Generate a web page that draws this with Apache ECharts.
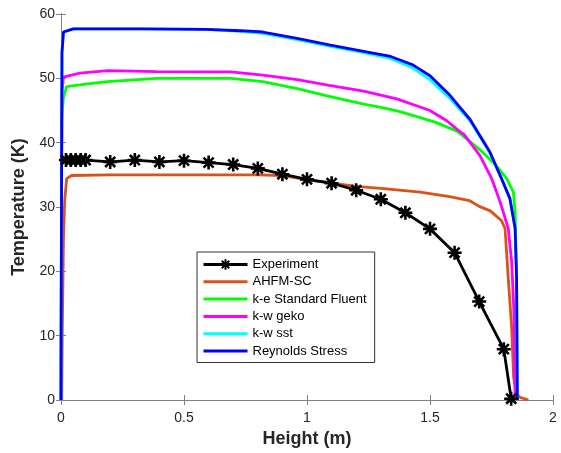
<!DOCTYPE html>
<html>
<head>
<meta charset="utf-8">
<script src="https://cdn.jsdelivr.net/npm/echarts@6/dist/echarts.min.js"></script>
<style>
  html, body { margin: 0; padding: 0; background: #fff; }
  #main { width: 561px; height: 453px; }
</style>
</head>
<body>
<div id="main"></div>
<script>
// data: [height (m), temperature (K)]
var experiment = [[0.02,37.3],[0.04,37.3],[0.06,37.3],[0.08,37.3],[0.1,37.3],[0.2,37.0],[0.3,37.3],
    [0.4,37.0],[0.5,37.2],[0.6,36.9],[0.7,36.6],[0.8,36.0],[0.9,35.1],[1.0,34.3],[1.1,33.7],
    [1.2,32.6],[1.3,31.2],[1.4,29.1],[1.5,26.6],[1.6,22.9],[1.7,15.3],[1.8,7.9],[1.83,0.2]];
var ahfm = [[0.003,0],[0.005,10],[0.01,25],[0.015,31],[0.023,34.4],[0.043,34.9],[0.2,35.0],
    [0.5,35.0],[0.8,35.0],[0.9,34.9],[1.0,34.2],[1.1,33.7],[1.2,33.2],[1.3,32.9],[1.46,32.3],
    [1.58,31.6],[1.66,31.0],[1.7,30.1],[1.745,29.4],[1.79,27.9],[1.805,26.7],[1.818,19],
    [1.832,11.2],[1.84,3.5],[1.852,1.0],[1.866,0.4],[1.9,0]];
var keStandard = [[0,0],[0.002,30],[0.003,44],[0.01,47],[0.023,48.7],[0.1,49.1],[0.19,49.5],
    [0.39,50.0],[0.51,50.0],[0.69,50.0],[0.82,49.5],[0.96,48.4],[1.09,47.2],[1.23,46.0],
    [1.3,45.5],[1.37,44.9],[1.46,43.9],[1.52,43.2],[1.61,41.8],[1.7,39.0],[1.77,36.4],
    [1.812,34.4],[1.839,32.3],[1.846,29.2],[1.852,19],[1.853,0]];
var kwGeko = [[0,0],[0.002,30],[0.004,48],[0.01,50.2],[0.077,50.8],[0.19,51.2],[0.39,51.05],
    [0.69,51.0],[0.82,50.5],[0.96,49.8],[1.09,48.9],[1.23,48.0],[1.365,46.8],[1.5,45.0],
    [1.568,43.4],[1.615,41.9],[1.64,41.2],[1.703,38.0],[1.751,34.4],[1.785,30.8],[1.818,26.7],
    [1.832,21.5],[1.841,13.9],[1.846,0]];
var kwSst = [[0,0],[0.002,30],[0.004,54],[0.01,57.2],[0.05,57.7],[0.32,57.7],[0.59,57.6],
    [0.73,57.3],[0.82,57.0],[0.96,56.0],[1.09,55.0],[1.23,54.0],[1.34,53.1],[1.43,51.6],
    [1.5,49.8],[1.58,46.9],[1.663,43.4],[1.744,38.4],[1.791,34.4],[1.825,31.3],[1.846,26.7],
    [1.852,19],[1.855,0]];
var reynolds = [[0,0],[0.002,30],[0.004,54],[0.01,57.2],[0.05,57.7],[0.32,57.7],[0.59,57.6],
    [0.73,57.4],[0.82,57.2],[0.96,56.2],[1.09,55.2],[1.23,54.2],[1.34,53.4],[1.43,52.1],
    [1.5,50.4],[1.58,47.4],[1.663,43.6],[1.744,38.5],[1.791,34.4],[1.825,31.3],[1.846,26.7],
    [1.852,19],[1.855,0]];

var names = ['Experiment','AHFM-SC','k-e Standard Fluent','k-w geko','k-w sst','Reynolds Stress'];
var colors = ['#000000','#D95319','#00FF00','#FF00FF','#00FFFF','#0000FF'];
var xTicks = [0, 0.5, 1, 1.5, 2];
var yTicks = [0, 10, 20, 30, 40, 50, 60];

var font = 'Liberation Sans, Arial, sans-serif';
var asterisk = 'path://M0,-6L0,6M-6,0L6,0M-4.3,-4.3L4.3,4.3M-4.3,4.3L4.3,-4.3';

function lineSeries(i, data) {
    return {
        name: names[i],
        type: 'line',
        data: data,
        symbol: 'none',
        color: colors[i],
        lineStyle: {color: colors[i], width: 2.8},
        z: 2 + i,
        animation: false
    };
}

// legend: no symbol on the plain line entries
var legendData = names.map(function (n, i) {
    if (i === 0) return n;
    return {name: n, itemStyle: {opacity: 0}};
});

var plain = {
    type: 'value', min: 0,
    axisLine: {show: true, lineStyle: {color: '#808080', width: 1}},
    axisTick: {show: true, inside: true, length: 5, lineStyle: {color: '#808080'}},
    axisLabel: {show: false},
    splitLine: {show: false}
};

var option = {
    backgroundColor: '#fff',
    animation: false,
    grid: {left: 61, right: 8, top: 14, bottom: 50},
    legend: {
        orient: 'vertical',
        left: 197,
        top: 252,
        width: 178,
        padding: [6, 8, 5, 5],
        itemWidth: 44,
        itemHeight: 13,
        itemGap: 4.3,
        borderColor: '#333',
        borderWidth: 1,
        backgroundColor: '#fff',
        lineStyle: {width: 3},
        textStyle: {fontFamily: font, fontSize: 13, color: '#000'},
        data: legendData
    },
    xAxis: [
        {
            type: 'value', min: 0, max: 2, interval: 0.5,
            name: 'Height (m)', nameLocation: 'middle', nameGap: 30,
            nameTextStyle: {fontFamily: font, fontSize: 18, fontWeight: 'bold', color: '#262626'},
            axisLine: {show: true, lineStyle: {color: '#808080', width: 1}},
            axisTick: {show: true, inside: true, length: 5, lineStyle: {color: '#808080'}},
            axisLabel: {fontFamily: font, fontSize: 14, color: '#262626', margin: 11,
                formatter: function (v) { return xTicks.indexOf(v) >= 0 ? String(v) : ''; }},
            splitLine: {show: false}
        },
        Object.assign({}, plain, {max: 2, interval: 0.5, position: 'top'})
    ],
    yAxis: [
        {
            type: 'value', min: 0, max: 60, interval: 10,
            name: 'Temperature (K)', nameLocation: 'middle', nameGap: 26, nameRotate: 90,
            nameTextStyle: {fontFamily: font, fontSize: 18, fontWeight: 'bold', color: '#262626'},
            axisLine: {show: true, lineStyle: {color: '#808080', width: 1}},
            axisTick: {show: true, inside: true, length: 5, lineStyle: {color: '#808080'}},
            axisLabel: {fontFamily: font, fontSize: 14, color: '#262626', margin: 6,
                formatter: function (v) { return yTicks.indexOf(v) >= 0 ? String(v) : ''; }},
            splitLine: {show: false}
        },
        Object.assign({}, plain, {max: 60, interval: 10, position: 'right'})
    ],
    series: [
        lineSeries(1, ahfm),
        lineSeries(2, keStandard),
        lineSeries(3, kwGeko),
        lineSeries(4, kwSst),
        lineSeries(5, reynolds),
        {
            name: names[0],
            type: 'line',
            data: experiment,
            symbol: asterisk,
            symbolSize: 14,
            color: '#000',
            itemStyle: {color: '#000', borderColor: '#000', borderWidth: 2.6},
            lineStyle: {color: '#000', width: 2.8},
            z: 10,
            animation: false
        }
    ]
};

var myChart = echarts.init(document.getElementById('main'));
myChart.setOption(option);
</script>
</body>
</html>
